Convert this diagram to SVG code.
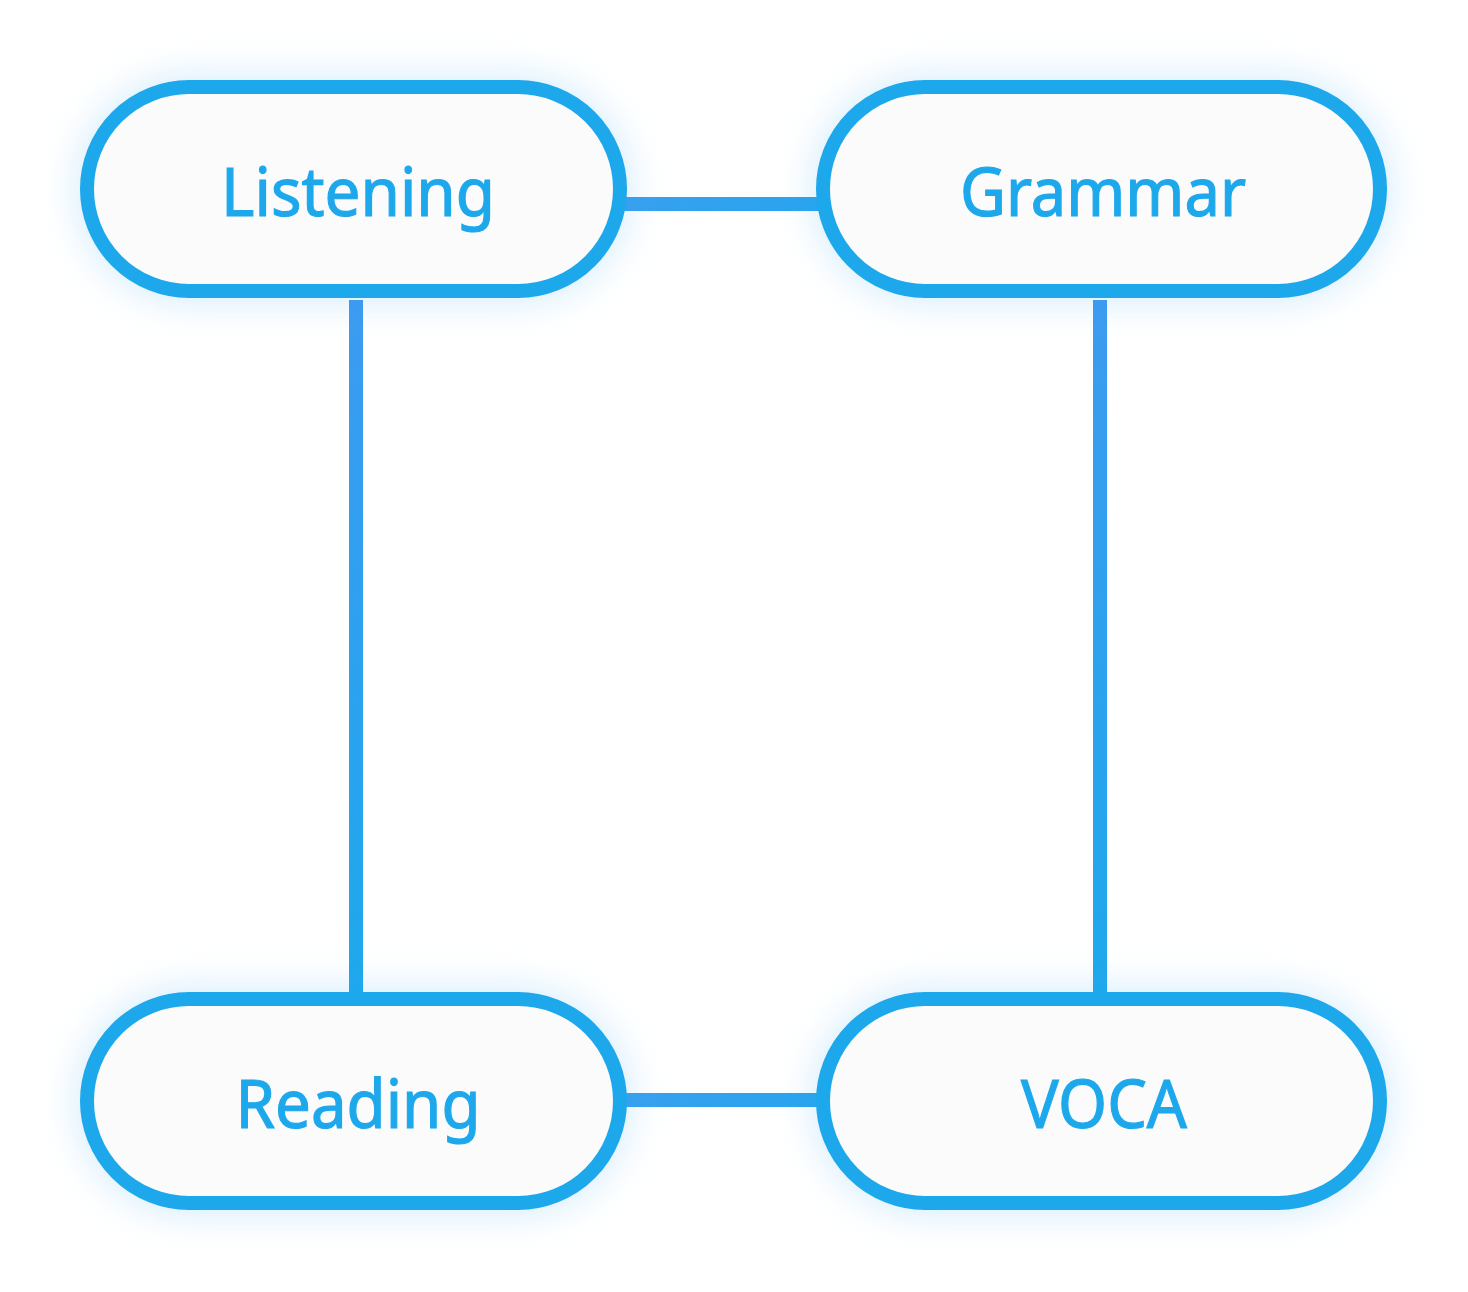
<svg xmlns="http://www.w3.org/2000/svg" width="1468" height="1292" viewBox="0 0 1468 1292">
<defs>
<filter id="glow" x="-30%" y="-60%" width="160%" height="220%">
<feGaussianBlur stdDeviation="20"/>
</filter>
<linearGradient id="vgradL" gradientUnits="userSpaceOnUse" x1="0" y1="300" x2="0" y2="996">
<stop offset="0" stop-color="#3c9bf0"/>
<stop offset="1" stop-color="#1ea8ec"/>
</linearGradient>
<linearGradient id="hgrad" gradientUnits="userSpaceOnUse" x1="615" y1="0" x2="828" y2="0">
<stop offset="0" stop-color="#37a0ef"/>
<stop offset="1" stop-color="#29a4ee"/>
</linearGradient>
<style>
.halo{fill:#c4e5fb;opacity:0.85;filter:url(#glow)}
.pill{fill:#fbfbfb;stroke:#1ea8ec;stroke-width:14}
.lbl{font-family:"Noto Sans","Open Sans","DejaVu Sans",sans-serif;font-size:67px;fill:#1ea8ec;stroke:#1ea8ec;stroke-width:1.2;text-anchor:middle}
.vline{stroke:url(#vgradL);stroke-width:14;fill:none}
.hline{stroke:url(#hgrad);stroke-width:14;fill:none}
</style>
</defs>
<rect width="1468" height="1292" fill="#ffffff"/>
<g id="halos">
<rect class="halo" x="80" y="80" width="547" height="218" rx="109"/>
<rect class="halo" x="816" y="80" width="571" height="218" rx="109"/>
<rect class="halo" x="80" y="992" width="547" height="218" rx="109"/>
<rect class="halo" x="816" y="992" width="571" height="218" rx="109"/>
</g>
<g id="connectors">
<line class="hline" x1="615" y1="204" x2="828" y2="204"/>
<line class="hline" x1="615" y1="1100" x2="828" y2="1100"/>
<line class="vline" x1="356" y1="300" x2="356" y2="996"/>
<line class="vline" x1="1100" y1="300" x2="1100" y2="996"/>
</g>
<g id="node-listening">
<rect class="pill" x="87" y="87" width="533" height="204" rx="102"/>
<text class="lbl" x="358" y="216" textLength="274" lengthAdjust="spacingAndGlyphs">Listening</text>
</g>
<g id="node-grammar">
<rect class="pill" x="823" y="87" width="557" height="204" rx="102"/>
<text class="lbl" x="1103" y="216" textLength="286" lengthAdjust="spacingAndGlyphs">Grammar</text>
</g>
<g id="node-reading">
<rect class="pill" x="87" y="999" width="533" height="204" rx="102"/>
<text class="lbl" x="358" y="1128" textLength="245" lengthAdjust="spacingAndGlyphs">Reading</text>
</g>
<g id="node-voca">
<rect class="pill" x="823" y="999" width="557" height="204" rx="102"/>
<text class="lbl" x="1104" y="1128" textLength="166" lengthAdjust="spacingAndGlyphs">VOCA</text>
</g>
</svg>
